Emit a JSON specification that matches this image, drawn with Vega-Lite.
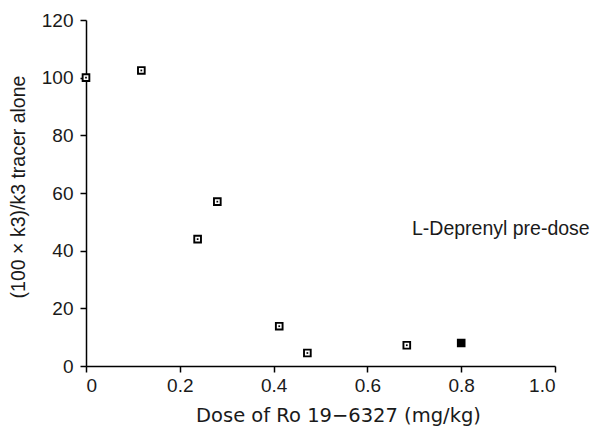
{
  "$schema": "https://vega.github.io/schema/vega-lite/v6.json",
  "width": 469,
  "height": 346,
  "autosize": "none",
  "padding": {"left": 86, "top": 20, "right": 36, "bottom": 67},
  "background": "white",
  "config": {
    "view": {"stroke": null},
    "axis": {
      "grid": false,
      "domainColor": "black",
      "domainWidth": 1.5,
      "tickColor": "black",
      "tickWidth": 1.5,
      "tickSize": 6,
      "labelFont": "Liberation Sans",
      "labelFontSize": 19,
      "labelColor": "#1a1a1a",
      "titleFont": "Liberation Sans",
      "titleFontSize": 19,
      "titleFontWeight": "normal",
      "titleColor": "#1a1a1a"
    }
  },
  "datasets": {
    "pts": [
      {"dose": 0.0, "ratio": 100, "kind": "open"},
      {"dose": 0.118, "ratio": 102.5, "kind": "open"},
      {"dose": 0.238, "ratio": 44, "kind": "open"},
      {"dose": 0.28, "ratio": 57, "kind": "open"},
      {"dose": 0.412, "ratio": 13.8, "kind": "open"},
      {"dose": 0.472, "ratio": 4.5, "kind": "open"},
      {"dose": 0.684, "ratio": 7.2, "kind": "open"},
      {"dose": 0.8, "ratio": 8, "kind": "filled"}
    ],
    "note": [{"dose": 0.695, "ratio": 47.5, "label": "L-Deprenyl pre-dose"}]
  },
  "layer": [
    {
      "data": {"name": "pts"},
      "mark": {"type": "point", "shape": "square", "size": 45, "strokeWidth": 1.9, "stroke": "black", "opacity": 1},
      "encoding": {
        "x": {
          "field": "dose", "type": "quantitative",
          "scale": {"domain": [0, 1.0], "nice": false},
          "axis": {"values": [0, 0.2, 0.4, 0.6, 0.8, 1.0], "labelExpr": "datum.value == 0 ? '0' : format(datum.value, '.1f')", "labelPadding": 4, "titleFont": "DejaVu Sans", "titleFontSize": 19.5, "titleX": 252, "titleY": 55, "titleBaseline": "alphabetic", "titleAlign": "center"},
          "title": "Dose of Ro 19\u22126327 (mg/kg)"
        },
        "y": {
          "field": "ratio", "type": "quantitative",
          "scale": {"domain": [0, 120], "nice": false},
          "axis": {"values": [0, 20, 40, 60, 80, 100, 120], "title": "(100 \u00d7 k3)/k3 tracer alone", "labelPadding": 7, "titleFontSize": 19.5, "titleX": -68, "titleY": 166.5, "titleBaseline": "middle", "titleAlign": "center", "titleAngle": 270}
        },
        "fill": {
          "field": "kind", "type": "nominal",
          "scale": {"domain": ["open", "filled"], "range": ["white", "black"]},
          "legend": null
        }
      }
    },
    {
      "data": {"name": "pts"},
      "transform": [{"filter": "datum.kind == 'open'"}],
      "mark": {"type": "square", "size": 3, "color": "black", "opacity": 1},
      "encoding": {
        "x": {"field": "dose", "type": "quantitative"},
        "y": {"field": "ratio", "type": "quantitative"}
      }
    },
    {
      "data": {"name": "note"},
      "mark": {"type": "text", "align": "left", "baseline": "middle", "font": "Liberation Sans", "fontSize": 19.5, "color": "#1a1a1a"},
      "encoding": {
        "x": {"field": "dose", "type": "quantitative"},
        "y": {"field": "ratio", "type": "quantitative"},
        "text": {"field": "label"}
      }
    }
  ]
}
